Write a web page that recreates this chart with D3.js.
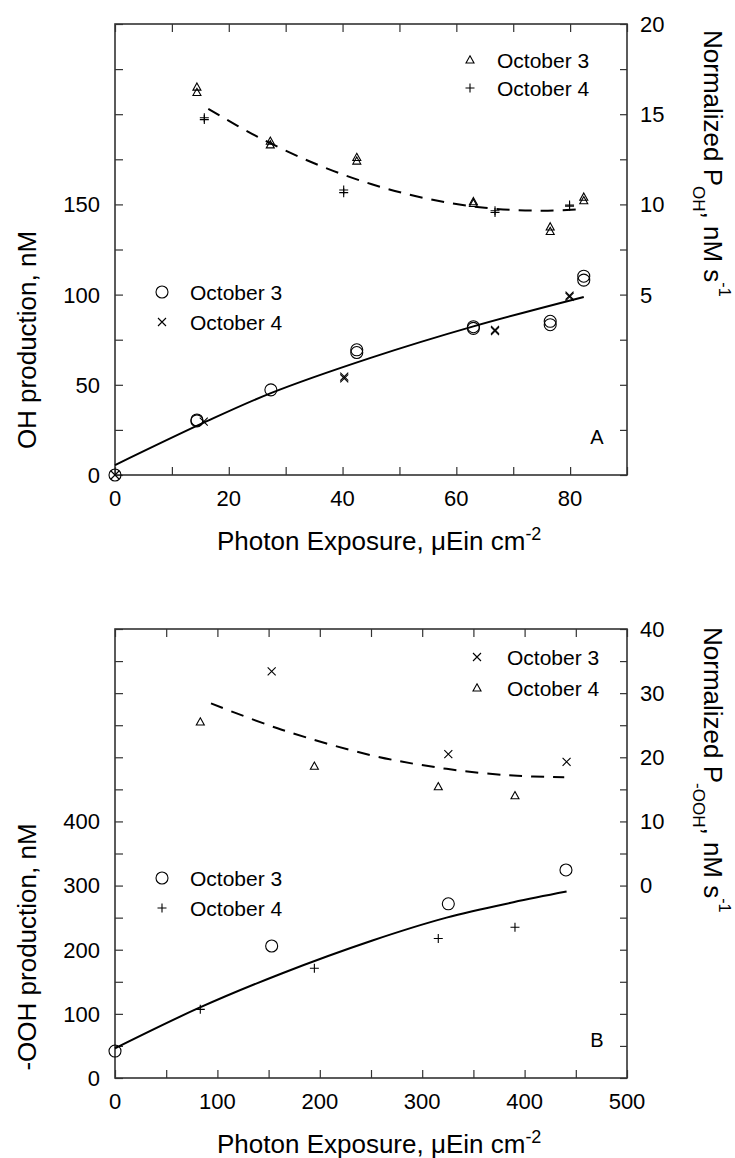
<!DOCTYPE html>
<html>
<head>
<meta charset="utf-8">
<script src="https://cdn.jsdelivr.net/npm/d3@7"></script>
<style>
  body { margin: 0; background: #fff; }
  text { font-family: "Liberation Sans", Arial, sans-serif; fill: #000; }
</style>
</head>
<body>
<svg id="chart" width="735" height="1158"></svg>
<script>
// ---------------- Panel A data (OH) ----------------
var A_circ_x = [0, 14.4, 14.4, 27.4, 42.5, 42.5, 63, 63, 76.5, 76.5, 82.4, 82.4]
var A_circ_y = [0, 30.5, 30, 47.2, 69.4, 67.9, 82.2, 81.3, 85.2, 83.3, 110.2, 108]
var A_cross_x = [0, 15.6, 40.3, 40.3, 66.8, 66.8, 79.9, 79.9]
var A_cross_y = [0, 29.6, 54.5, 53.5, 80.5, 79.8, 99.4, 98.8]
var A_tri_x = [14.4, 14.4, 27.3, 27.3, 42.5, 42.5, 63, 63, 76.5, 76.5, 82.4, 82.4]
var A_tri_y = [16.5, 16.2, 13.5, 13.3, 12.6, 12.4, 10.15, 10.05, 8.75, 8.5, 10.4, 10.2]
var A_plus_x = [15.7, 15.7, 40.2, 40.2, 66.8, 66.8, 79.9, 79.9]
var A_plus_y = [14.8, 14.7, 10.8, 10.65, 9.65, 9.55, 9.96, 9.9]
var A_fit_x = [0, 15.6, 27.4, 44.8, 63, 82.4]
var A_fit_y = [5.5, 29, 45.4, 64.8, 82.4, 98.7]
var A_norm_fit_x = [16.4, 25, 35, 45, 55, 65, 75, 82]
var A_norm_fit_y = [15.3, 13.76, 12.28, 11.13, 10.31, 9.81, 9.65, 9.73]
var A_xticks = [0, 10, 20, 30, 40, 50, 60, 70, 80, 90]
var A_xlabels = [0, 20, 40, 60, 80]
var A_lticks = [0, 25, 50, 75, 100, 125, 150, 175, 200, 225, 250]
var A_llabels = [0, 50, 100, 150]
var A_rticks = [-5, -2.5, 0, 2.5, 5, 7.5, 10, 12.5, 15, 17.5, 20]
var A_rlabels = [5, 10, 15, 20]

// ---------------- Panel B data (-OOH) ----------------
var B_circ_x = [0, 153, 325.5, 440.4]
var B_circ_y = [42, 205.8, 271.6, 324.3]
var B_plus_x = [83.3, 194.7, 315.7, 390.6]
var B_plus_y = [107, 171, 217.5, 235]
var B_cross_x = [153, 325.5, 441]
var B_cross_y = [33.4, 20.5, 19.3]
var B_tri_x = [83.3, 194.7, 315.7, 390.6]
var B_tri_y = [25.5, 18.6, 15.4, 14.0]
var B_fit_x = [0, 83, 162.8, 250.7, 323.8, 389, 441]
var B_fit_y = [46.3, 110, 163, 214, 250, 274, 290.6]
var B_norm_fit_x = [93.75, 162.8, 250.7, 323.8, 389, 438.7]
var B_norm_fit_y = [28.4, 24.3, 20.3, 18.2, 17.15, 16.9]
var B_xticks = [0, 50, 100, 150, 200, 250, 300, 350, 400, 450, 500]
var B_xlabels = [0, 100, 200, 300, 400, 500]
var B_lticks = [0, 50, 100, 150, 200, 250, 300, 350, 400, 450, 500, 550, 600, 650, 700]
var B_llabels = [0, 100, 200, 300, 400]
var B_rticks = [-30, -25, -20, -15, -10, -5, 0, 5, 10, 15, 20, 25, 30, 35, 40]
var B_rlabels = [0, 10, 20, 30, 40]

var svg = d3.select("#chart")
var zip = (xs, ys) => xs.map((x, i) => [x, ys[i]])

// marker shapes
function markerPath(type) {
    if (type == "plus") return "M-4.5,0H4.5M0,-4.5V4.5"
    if (type == "cross") return "M-4,-4L4,4M-4,4L4,-4"
    if (type == "tri") return "M0,-4.2L4,3L-4,3Z"
    return "M6,0A6,6 0 1,1 -6,0A6,6 0 1,1 6,0Z"
}
function drawMarkers(g, pts, type, xs, ys) {
    g.append("g").selectAll("path").data(pts).join("path")
        .attr("d", markerPath(type))
        .attr("transform", d => "translate(" + xs(d[0]) + "," + ys(d[1]) + ")")
        .attr("fill", "none").attr("stroke", "#000").attr("stroke-width", 1.1)
}

function drawPanel(p) {
    var x = d3.scaleLinear().domain(p.xdom).range([p.left, p.right])
    var yl = d3.scaleLinear().domain(p.ldom).range([p.bottom, p.top])
    var yr = d3.scaleLinear().domain(p.rdom).range([p.bottom, p.top])
    var g = svg.append("g")

    // ticks (all inward)
    var tickStyle = sel => { sel.select(".domain").remove(); sel.selectAll(".tick line").attr("stroke", "#333").attr("stroke-width", 1.2); sel.selectAll("text").remove() }
    g.append("g").attr("transform", "translate(0," + p.bottom + ")").call(d3.axisBottom(x).tickValues(p.xticks).tickSize(-8)).call(tickStyle)
    g.append("g").attr("transform", "translate(0," + p.top + ")").call(d3.axisTop(x).tickValues(p.xticks).tickSize(-8)).call(tickStyle)
    g.append("g").attr("transform", "translate(" + p.left + ",0)").call(d3.axisLeft(yl).tickValues(p.lticks).tickSize(-8)).call(tickStyle)
    g.append("g").attr("transform", "translate(" + p.right + ",0)").call(d3.axisRight(yr).tickValues(p.rticks).tickSize(-7)).call(tickStyle)

    // frame
    g.append("rect").attr("x", p.left).attr("y", p.top).attr("width", p.right - p.left).attr("height", p.bottom - p.top)
        .attr("fill", "none").attr("stroke", "#333").attr("stroke-width", 1.6)

    // tick labels
    g.selectAll(".xl").data(p.xlabels).join("text").attr("class", "xl")
        .attr("x", d => x(d)).attr("y", p.bottom + 31).attr("text-anchor", "middle").attr("font-size", 22).text(d => d)
    g.selectAll(".ll").data(p.llabels).join("text").attr("class", "ll")
        .attr("x", 100).attr("y", d => yl(d)).attr("dy", "0.36em").attr("text-anchor", "end").attr("font-size", 22).text(d => d)
    g.selectAll(".rl").data(p.rlabels).join("text").attr("class", "rl")
        .attr("x", 640).attr("y", d => yr(d)).attr("dy", "0.36em").attr("text-anchor", "start").attr("font-size", 22).text(d => d)

    // fit lines
    var lineL = d3.line().x(d => x(d[0])).y(d => yl(d[1])).curve(d3.curveCatmullRom)
    var lineR = d3.line().x(d => x(d[0])).y(d => yr(d[1])).curve(d3.curveCatmullRom)
    g.append("path").attr("d", lineL(p.fitL)).attr("fill", "none").attr("stroke", "#000").attr("stroke-width", 2)
    g.append("path").attr("d", lineR(p.fitR)).attr("fill", "none").attr("stroke", "#000").attr("stroke-width", 2).attr("stroke-dasharray", "13,9")

    // markers
    p.seriesL.forEach(s => drawMarkers(g, s.pts, s.type, x, yl))
    p.seriesR.forEach(s => drawMarkers(g, s.pts, s.type, x, yr))

    // legends
    p.legends.forEach(lg => {
        lg.items.forEach((it, i) => {
            var yy = lg.y + i * lg.gap
            g.append("path").attr("d", markerPath(it.type)).attr("transform", "translate(" + lg.mx + "," + yy + ")")
                .attr("fill", "none").attr("stroke", "#000").attr("stroke-width", 1.1)
            g.append("text").attr("x", lg.tx).attr("y", yy).attr("dy", "0.36em").attr("font-size", 21).text(it.label)
        })
    })

    // panel letter
    g.append("text").attr("x", 597).attr("y", p.letterY).attr("dy", "0.36em").attr("text-anchor", "middle").attr("font-size", 20).text(p.letter)

    // left title
    g.append("text").attr("transform", "translate(36," + p.ltitleY + ") rotate(-90)").attr("text-anchor", "middle")
        .attr("font-size", 26).text(p.ltitle)

    // right title
    var rt = g.append("text").attr("transform", "translate(704," + p.rtitleY + ") rotate(90)").attr("text-anchor", "start").attr("font-size", 26)
    rt.append("tspan").text("Normalized P")
    rt.append("tspan").attr("font-size", 17).attr("dy", 11).text(p.rsub)
    rt.append("tspan").attr("dy", -11).text(", nM s")
    rt.append("tspan").attr("font-size", 16).attr("dy", -15).text("-1")

    // x title
    var xt = g.append("text").attr("x", 217).attr("y", p.bottom + 75).attr("font-size", 26)
    xt.append("tspan").text("Photon Exposure, ")
    xt.append("tspan").text("\u03BC")
    xt.append("tspan").text("Ein cm")
    xt.append("tspan").attr("font-size", 18).attr("dy", -10).text("-2")
}

drawPanel({
    left: 115, right: 627, top: 24, bottom: 475,
    xdom: [0, 90], ldom: [0, 250], rdom: [-5, 20],
    xticks: A_xticks, xlabels: A_xlabels, lticks: A_lticks, llabels: A_llabels, rticks: A_rticks, rlabels: A_rlabels,
    fitL: zip(A_fit_x, A_fit_y), fitR: zip(A_norm_fit_x, A_norm_fit_y),
    seriesL: [{ pts: zip(A_circ_x, A_circ_y), type: "circle" }, { pts: zip(A_cross_x, A_cross_y), type: "cross" }],
    seriesR: [{ pts: zip(A_tri_x, A_tri_y), type: "tri" }, { pts: zip(A_plus_x, A_plus_y), type: "plus" }],
    legends: [
        { mx: 470, tx: 497, y: 60, gap: 28, items: [{ type: "tri", label: "October 3" }, { type: "plus", label: "October 4" }] },
        { mx: 162, tx: 190, y: 292, gap: 30, items: [{ type: "circle", label: "October 3" }, { type: "cross", label: "October 4" }] }
    ],
    letter: "A", letterY: 437,
    ltitle: "OH production, nM", ltitleY: 340,
    rsub: "OH", rtitleY: 30
})

drawPanel({
    left: 115, right: 627, top: 629, bottom: 1078,
    xdom: [0, 500], ldom: [0, 700], rdom: [-30, 40],
    xticks: B_xticks, xlabels: B_xlabels, lticks: B_lticks, llabels: B_llabels, rticks: B_rticks, rlabels: B_rlabels,
    fitL: zip(B_fit_x, B_fit_y), fitR: zip(B_norm_fit_x, B_norm_fit_y),
    seriesL: [{ pts: zip(B_circ_x, B_circ_y), type: "circle" }, { pts: zip(B_plus_x, B_plus_y), type: "plus" }],
    seriesR: [{ pts: zip(B_cross_x, B_cross_y), type: "cross" }, { pts: zip(B_tri_x, B_tri_y), type: "tri" }],
    legends: [
        { mx: 477, tx: 507, y: 657, gap: 31, items: [{ type: "cross", label: "October 3" }, { type: "tri", label: "October 4" }] },
        { mx: 162, tx: 190, y: 878, gap: 30, items: [{ type: "circle", label: "October 3" }, { type: "plus", label: "October 4" }] }
    ],
    letter: "B", letterY: 1040,
    ltitle: "-OOH production, nM", ltitleY: 947,
    rsub: "-OOH", rtitleY: 627
})
</script>
</body>
</html>
